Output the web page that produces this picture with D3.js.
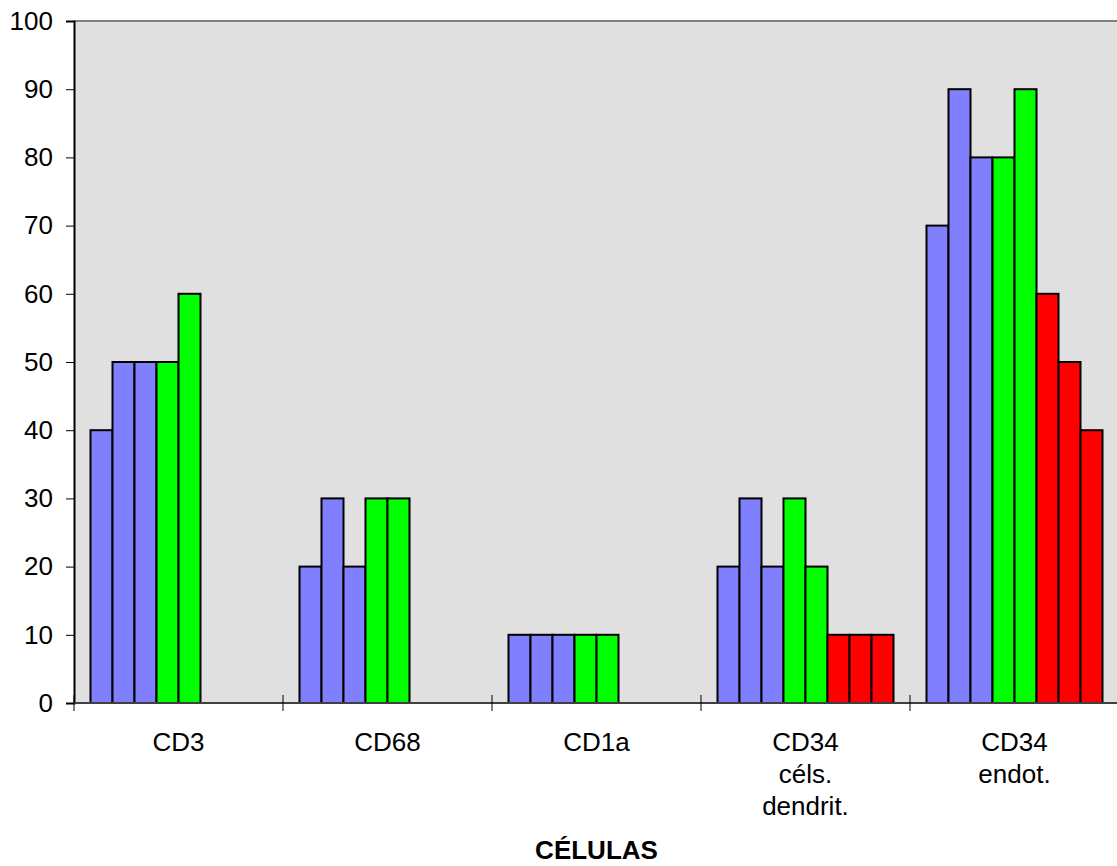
<!DOCTYPE html>
<html>
<head>
<meta charset="utf-8">
<script src="https://cdn.jsdelivr.net/npm/d3@7"></script>
<style>
  body { margin: 0; background: #fff; }
  svg { display: block; font-family: Arial, "Liberation Sans", sans-serif; }
</style>
</head>
<body>
<div id="chart"></div>
<script>
const categories = [["CD3"], ["CD68"], ["CD1a"], ["CD34", "céls.", "dendrit."], ["CD34", "endot."]];
const seriesNames = ["s1", "s2", "s3", "s4", "s5", "s6", "s7", "s8"];
const seriesColors = ["#8080FF", "#8080FF", "#8080FF", "#00FF00", "#00FF00", "#FF0000", "#FF0000", "#FF0000"];
const s1 = [40, 20, 10, 20, 70];
const s2 = [50, 30, 10, 30, 90];
const s3 = [50, 20, 10, 20, 80];
const s4 = [50, 30, 10, 30, 80];
const s5 = [60, 30, 10, 20, 90];
const s6 = [0, 0, 0, 10, 60];
const s7 = [0, 0, 0, 10, 50];
const s8 = [0, 0, 0, 10, 40];
const yTicks = [0, 10, 20, 30, 40, 50, 60, 70, 80, 90, 100];
const xTitle = "CÉLULAS";

const width = 1117, height = 866;
const allSeries = [s1, s2, s3, s4, s5, s6, s7, s8];

const svg = d3.select("#chart").append("svg")
    .attr("width", width)
    .attr("height", height);

const plotLeft = 74, plotRight = 1119, plotTop = 21, plotBottom = 703;

const x0 = d3.scaleBand()
    .domain(d3.range(categories.length))
    .range([plotLeft, plotRight])
    .paddingInner(0)
    .paddingOuter(0);

const x1 = d3.scaleBand()
    .domain(d3.range(seriesNames.length))
    .range([0, x0.bandwidth()])
    .paddingInner(0)
    .paddingOuter(0.75);

const y = d3.scaleLinear().domain([0, 100]).range([plotBottom, plotTop]);

// plot background
svg.append("rect")
    .attr("x", plotLeft)
    .attr("y", plotTop)
    .attr("width", plotRight - plotLeft)
    .attr("height", plotBottom - plotTop)
    .attr("fill", "#E0E0E0");

// top border of plot
svg.append("line")
    .attr("x1", plotLeft).attr("x2", plotRight)
    .attr("y1", plotTop).attr("y2", plotTop)
    .attr("stroke", "#808080").attr("stroke-width", 2);

// bars
const groups = svg.selectAll("g.cat")
    .data(categories.map((c, i) => i))
    .join("g")
    .attr("class", "cat")
    .attr("transform", i => `translate(${x0(i)},0)`);

groups.selectAll("rect")
    .data(i => allSeries.map((s, j) => ({ j: j, v: s[i] })).filter(d => d.v > 0))
    .join("rect")
    .attr("x", d => x1(d.j))
    .attr("y", d => y(d.v))
    .attr("width", x1.bandwidth())
    .attr("height", d => y(0) - y(d.v))
    .attr("fill", d => seriesColors[d.j])
    .attr("stroke", "#000")
    .attr("stroke-width", 2);

// y axis
const yAxis = svg.append("g")
    .attr("transform", `translate(${plotLeft},0)`)
    .call(d3.axisLeft(y).tickValues(yTicks).tickSize(8).tickPadding(13));
yAxis.attr("font-size", null).attr("font-family", null);
yAxis.select(".domain").attr("stroke", "#000").attr("stroke-width", 2);
yAxis.selectAll(".tick line").attr("stroke", "#000");
yAxis.selectAll(".tick text")
    .style("font-size", "26px")
    .style("font-family", "Arial, 'Liberation Sans', sans-serif")
    .attr("fill", "#000");

// x axis line
svg.append("line")
    .attr("x1", plotLeft).attr("x2", plotRight)
    .attr("y1", plotBottom).attr("y2", plotBottom)
    .attr("stroke", "#404040").attr("stroke-width", 2);

// category separators (ticks crossing the axis)
svg.selectAll("line.sep")
    .data(d3.range(categories.length))
    .join("line")
    .attr("class", "sep")
    .attr("x1", i => x0(i)).attr("x2", i => x0(i))
    .attr("y1", plotBottom - 8).attr("y2", plotBottom + 8)
    .attr("stroke", "#000").attr("stroke-width", 1);

// category labels
const labels = svg.selectAll("text.cat")
    .data(categories)
    .join("text")
    .attr("class", "cat")
    .attr("x", (c, i) => x0(i) + x0.bandwidth() / 2)
    .attr("y", 751)
    .attr("text-anchor", "middle")
    .style("font-size", "26px")
    .attr("fill", "#000");
labels.selectAll("tspan")
    .data(c => c)
    .join("tspan")
    .attr("x", function() { return d3.select(this.parentNode).attr("x"); })
    .attr("dy", (t, k) => k === 0 ? 0 : 32)
    .text(t => t);

// axis title
svg.append("text")
    .attr("x", (plotLeft + plotRight) / 2)
    .attr("y", 859)
    .attr("text-anchor", "middle")
    .style("font-size", "26px")
    .attr("font-weight", "bold")
    .attr("fill", "#000")
    .text(xTitle);
</script>
</body>
</html>
